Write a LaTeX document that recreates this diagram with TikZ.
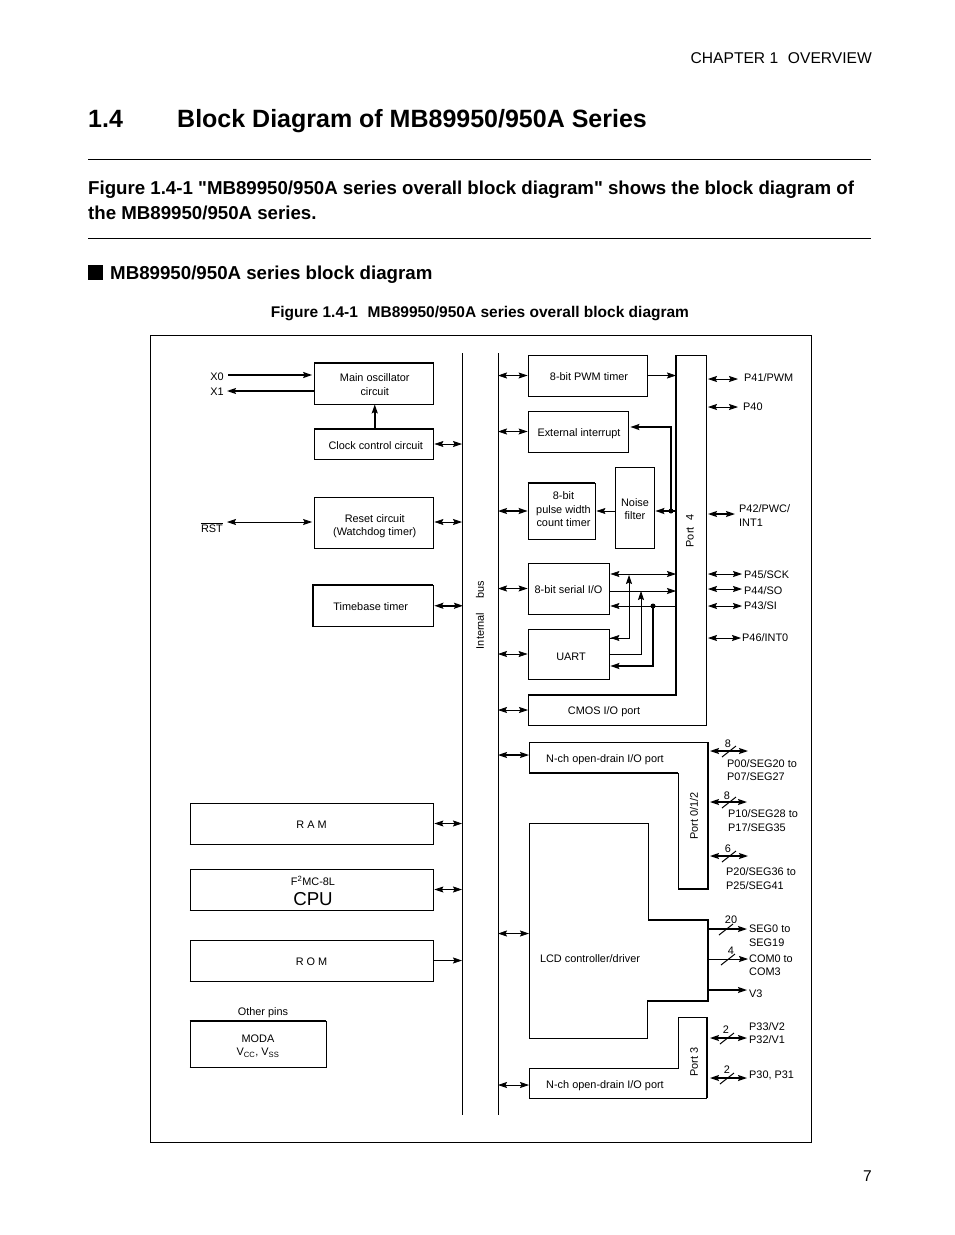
\documentclass[tikz,border=0pt]{standalone}
\usepackage{fontspec}
\setmainfont{Liberation Sans}[Ligatures=TeXOff]
\usetikzlibrary{arrows.meta,calc}
\newcommand{\dtxt}{\fontsize{10.9}{13.5}\selectfont}
\newcommand{\sh}[1]{\hspace*{#1pt}}
\tikzset{
  thinln/.style={line width=0.75pt},
  heavyln/.style={line width=1.7pt},
  block/.style={draw,thinln,inner sep=0pt,align=center,font=\dtxt,text depth=0pt},
  lab/.style={inner sep=0pt,align=left,font=\dtxt,text depth=0pt,yshift=-1pt},
  rot/.style={inner sep=0pt,font=\dtxt,rotate=90},
  pagetxt/.style={inner sep=0pt,anchor=base west},
  conn/.style={thinln,>={Stealth[length=9pt,width=6pt,inset=1.5pt]}},
  hconn/.style={line width=1.5pt,>={Stealth[length=9pt,width=6pt,inset=1.5pt]}},
  dotnode/.style={circle,fill,inner sep=0pt,minimum size=5pt},
}
% \blk[opts]{name}{x1}{y1}{x2}{y2}{text}
\newcommand{\blk}[7][]{\node[block,#1,minimum width=#5pt-#3pt,minimum height=#6pt-#4pt] (#2) at ({(#3+#5)/2},{(#4+#6)/2}) {\rule{0pt}{10pt}#7};}
\newcommand{\pin}[4]{\coordinate (#1a) at (#2,#3); \coordinate (#1b) at (#4,#3);}
\newcommand{\wslash}[1]{\draw[line width=1pt] ($(#1)+(-7,5.5)$) -- ($(#1)+(7,-5.5)$);}
\begin{document}
\begin{tikzpicture}[x=1pt,y=-1pt]
\useasboundingbox (0,0) rectangle (954,1235);
% page text
\node[inner sep=0pt,anchor=base east,font=\fontsize{15.6}{20}\selectfont] (chap) at (872,63) {CHAPTER 1\hspace{0.35em} OVERVIEW};
\node[pagetxt,font=\bfseries\fontsize{25}{30}\selectfont] (secno) at (88,127) {1.4};
\node[pagetxt,font=\bfseries\fontsize{25}{30}\selectfont] (sectitle) at (177,127) {Block Diagram of MB89950/950A Series};
\coordinate (r1a) at (88,159); \coordinate (r1b) at (871,159);
\coordinate (r2a) at (88,238); \coordinate (r2b) at (871,238);
\draw[line width=0.7pt] (r1a) -- (r1b);
\draw[line width=0.7pt] (r2a) -- (r2b);
\node[pagetxt,font=\bfseries\fontsize{18.67}{24}\selectfont] (p1) at (88,194) {Figure 1.4-1 "MB89950/950A series overall block diagram" shows the block diagram of};
\node[pagetxt,font=\bfseries\fontsize{18.67}{24}\selectfont] (p2) at (88,219) {the MB89950/950A series.};
\fill (88,265) rectangle (103,280);
\node[pagetxt,font=\bfseries\fontsize{18.7}{24}\selectfont] (subh) at (110,279.5) {MB89950/950A series block diagram};
\node[inner sep=0pt,anchor=base,font=\bfseries\fontsize{15.5}{20}\selectfont] (cap) at (480,317) {Figure 1.4-1\hspace{0.35em} MB89950/950A series overall block diagram};
\node[inner sep=0pt,anchor=base east,font=\fontsize{15.6}{20}\selectfont] (pageno) at (872,1181) {7};
% frame
\draw[line width=0.8pt] (150.5,335) rectangle (811,1142);
% buses
\coordinate (busL) at (462,353); \coordinate (busLb) at (462,1115);
\coordinate (busR) at (498,353); \coordinate (busRb) at (498,1115);
\draw[line width=0.9pt] (busL) -- (busLb);
\draw[line width=0.9pt] (busR) -- (busRb);
\node[rot] (ibus) at (480,615) {Internal\hspace{1.3em}bus};
% left blocks
\blk{osc}{314.5}{363}{433}{404}{\sh{2}Main oscillator\\\sh{2}circuit}
\blk{clk}{314.5}{429}{433}{459}{\sh{4}Clock control circuit}
\blk{rstc}{314.5}{497.5}{433}{548}{\rule{0pt}{12pt}\sh{2}Reset circuit\\\sh{2}(Watchdog timer)}
\blk{tb}{313.5}{585.5}{433}{626}{Timebase timer\hspace{5pt}}
\blk{ram}{190}{803}{433}{844}{R A M}
\blk{cpu}{190}{869}{433}{910}{}
\node[lab] (cpua) at (313,880) {F\textsuperscript{2}MC-8L};
\node[inner sep=0pt,font=\fontsize{18.7}{20}\selectfont] (cpub) at (313,899) {CPU};
\blk{rom}{190}{940}{433}{981}{R O M}
\blk{moda}{190}{1021}{326}{1067}{MODA\\V\textsubscript{CC}, V\textsubscript{SS}}
\node[lab] (opins) at (263,1011) {Other pins};
% heavier edges of the left blocks
\draw[line width=1.3pt] (osc.north west) -- (osc.north east) -- (osc.south east) -- (osc.south west);
\draw[line width=1.3pt] (clk.north west) -- (clk.north east) -- (clk.south east);
\draw[line width=1.3pt] (tb.north east) -- (tb.north west) -- (tb.south west) -- (tb.south east) -- (tb.north east);
\draw[line width=1.2pt] (ram.south west) -- (ram.south east);
\draw[line width=1.5pt] (cpu.south west) -- (cpu.south east);
\draw[line width=1.5pt] (rom.south west) -- (rom.south east);
\draw[line width=1.5pt] (moda.north west) -- (moda.north east);
\draw[line width=1.5pt] (moda.south west) -- (moda.south east);
% left labels and connectors
\node[lab] (x0) at (217,376) {X0};
\node[lab] (x1) at (217,391) {X1};
\node[lab] (rstl) at (212,527.5) {RST};
\draw[line width=0.7pt] ($(rstl.north west)+(0,-1.5)$) -- ($(rstl.north east)+(0,-1.5)$);
\coordinate (x0e) at (228,375); \coordinate (x1e) at (227,391); \coordinate (rste) at (227,522);
\draw[hconn,->] (x0e) -- ($(x0e -| osc.west)+(-2,0)$);
\draw[hconn,<-] (x1e) -- (x1e -| osc.west);
\draw[conn,<->] (rste) -- ($(rste -| rstc.west)+(-2,0)$);
\draw[hconn,->] ($(clk.north)+(1,0)$) -- ($(osc.south)+(1,0)$);
\draw[conn,<->] ($(clk.east)+(1,0)$) -- (clk.east -| busL);
\draw[conn,<->] ($(rstc.east |- rste)+(1,0)$) -- (rste -| busL);
\draw[hconn,<->] ($(tb.east)+(1,0)$) -- ($(tb.east -| busL)+(1,0)$);
\draw[conn,<->] ($(ram.east)+(1,0)$) -- (ram.east -| busL);
\draw[conn,<->] ($(cpu.east)+(1,0)$) -- (cpu.east -| busL);
\draw[conn,->] (rom.east) -- (rom.east -| busL);
% right column blocks
\blk{pwm}{528}{355}{647}{396}{\sh{3}8-bit PWM timer}
\blk{ext}{528}{411}{628}{452}{\sh{2}External interrupt}
\blk[text depth=6pt]{pulse}{528}{483}{595}{539}{\sh{4}8-bit\\\sh{4}pulse width\\\sh{4}count timer}
\blk{noise}{615}{467}{654}{548.5}{\sh{1}Noise\\\sh{1}filter}
\blk{serial}{528}{563}{609}{614}{8-bit serial I/O}
\blk{uart}{528}{629}{609}{679}{\rule{0pt}{12pt}\sh{5}UART}
\draw[line width=1.3pt] (pwm.north east) -- (pwm.south east) -- (pwm.south west);
\draw[line width=1.4pt] (ext.south west) -- (ext.south east);
\draw[line width=1.4pt] (pulse.north west) -- (pulse.north east);
\draw[line width=1.4pt] (serial.south west) -- (serial.south east);
% Port 4 / CMOS L-shape
\coordinate (p4w) at (676,355); \coordinate (p4e) at (706,355);
\draw[thinln] (p4w) -- (p4e) -- (706,725) -- (528,725) -- (528,695);
\draw[line width=1.1pt] (p4w) -- (676,695);
\draw[heavyln] (676.5,695) -- (528,695);
\node[rot] (port4) at (690,531) {Port\hspace{0.6em}4};
\node[lab] (cmos) at (604,710) {CMOS I/O port};
% Port 0/1/2 L-shape
\coordinate (p0w) at (678,773); \coordinate (p0e) at (708,742);
\draw[thinln] (529,773) -- (529,742) -- (p0e);
\draw[line width=1.3pt] (p0e) -- (708,889) -- (678,889);
\draw[thinln] (678,889) -- (p0w);
\draw[line width=1.3pt] (p0w) -- (529,773);
\node[rot] (port012) at (694,816) {Port 0/1/2};
\node[lab] (nch1) at (605,758) {N-ch open-drain I/O port};
% LCD
\coordinate (lcdw) at (529,933); \coordinate (lcde) at (708,960);
\draw[thinln] (648,920) -- (648,823) -- (529,823) -- (529,1038) -- (647,1038) -- (647,1001);
\draw[line width=1.4pt] (648,920) -- (708,920) -- (708,1001) -- (647,1001);
\node[lab] (lcd) at (590,958) {LCD controller/driver};
% Port 3 L-shape
\coordinate (p3e) at (707,1017);
\draw[thinln] (p3e) -- (678,1017) -- (678,1068) -- (529,1068) -- (529,1098) -- (707,1098);
\draw[line width=1.1pt] (p3e) -- (707,1098);
\node[rot] (port3) at (694,1062) {Port 3};
\node[lab] (nch2) at (605,1084) {N-ch open-drain I/O port};
% bus connectors, right side
\draw[conn,<->] (busR |- pwm.west) -- (pwm.west);
\draw[conn,<->] (busR |- ext.west) -- (ext.west);
\draw[hconn,<->] (busR |- pulse.west) -- (pulse.west);
\draw[conn,<->] (busR |- serial.west) -- (serial.west);
\draw[conn,<->] (busR |- uart.west) -- (uart.west);
\coordinate (cmosw) at (528,710); \coordinate (n1w) at (529,755);
\coordinate (lcdbw) at (529,933.5); \coordinate (n2w) at (529,1085);
\draw[conn,<->] (busR |- cmosw) -- (cmosw);
\draw[line width=1.1pt,>={Stealth[length=9pt,width=6pt,inset=1.5pt]},<->] (busR |- n1w) -- (n1w);
\draw[conn,<->] (busR |- lcdbw) -- (lcdbw);
\draw[conn,<->] (busR |- n2w) -- (n2w);
% internal connectors
\draw[conn,->] (pwm.east) -- (pwm.east -| p4w);
\coordinate (nj) at (671,511);
\node[dotnode] (njd) at (nj) {};
\draw[hconn,->] (p4w |- nj) -- ($(nj -| noise.east)+(1,0)$);
\draw[hconn,->] (njd.center) -- (671,427) -- ($(ext.east |- 0,427)+(2,0)$);
\draw[conn,->] (noise.west |- nj) -- ($(pulse.east |- nj)+(1,0)$);
\coordinate (sa) at (629,574); \coordinate (sb) at (641,591); \coordinate (sc) at (653,606);
\draw[conn,<->] ($(serial.east |- sa)+(1,0)$) -- (sa -| p4w);
\draw[conn,->] (serial.east |- sb) -- (sb -| p4w);
\draw[conn,->] (sc -| p4w) -- ($(serial.east |- sc)+(1,0)$);
\draw[conn,->] ($(uart.east |- 0,638)+(1,0)$) -- (629,638) -- ($(sa)+(0,1)$);
\draw[conn,->] (629,638) -- ($(uart.east |- 0,638)+(1,0)$);
\draw[conn,->] (uart.east |- 0,654) -- (641,654) -- (sb);
\node[dotnode] (scd) at (sc) {};
\draw[hconn,->] (scd.center) -- (653,666) -- ($(uart.east |- 0,666)+(1,0)$);
% pins of port 4
\pin{p41}{708}{379}{738} \draw[conn,<->] (p41a) -- (p41b);
\pin{p40}{708}{407}{738} \draw[conn,<->] (p40a) -- (p40b);
\pin{p42}{708}{514}{735} \draw[hconn,<->] (p42a) -- (p42b);
\pin{p45}{708}{574}{742} \draw[conn,<->] (p45a) -- (p45b);
\pin{p44}{708}{589}{742} \draw[conn,<->] (p44a) -- (p44b);
\pin{p43}{708}{606}{742} \draw[conn,<->] (p43a) -- (p43b);
\pin{p46}{708}{638}{741} \draw[conn,<->] (p46a) -- (p46b);
\node[lab,anchor=west] (l41) at (744,377) {P41/PWM};
\node[lab,anchor=west] (l40) at (743,406) {P40};
\node[lab,anchor=west] (l42) at (739,514.5) {P42/PWC/\\INT1};
\node[lab,anchor=west] (l45) at (744,574) {P45/SCK};
\node[lab,anchor=west] (l44) at (744,590) {P44/SO};
\node[lab,anchor=west] (l43) at (744,605) {P43/SI};
\node[lab,anchor=west] (l46) at (742,637) {P46/INT0};
% pins of port 0/1/2
\pin{p0}{710}{751}{748} \draw[hconn,<->] (p0a) -- (p0b);
\pin{p1}{710}{802}{747} \draw[hconn,<->] (p1a) -- (p1b);
\pin{p2}{710}{856}{748} \draw[hconn,<->] (p2a) -- (p2b);
\coordinate (s0) at (729,751.5); \coordinate (s1) at (729,802.5); \coordinate (s2) at (729,856.5);
\wslash{s0} \wslash{s1} \wslash{s2}
\node[lab] (n8a) at (728,743) {8};
\node[lab] (n8b) at (727,795) {8};
\node[lab] (n6) at (728,848) {6};
\node[lab,anchor=west] (l00) at (727,769) {P00/SEG20 to\\P07/SEG27};
\node[lab,anchor=west] (l10) at (728,819.5) {P10/SEG28 to\\P17/SEG35};
\node[lab,anchor=west] (l20) at (726,877.5) {P20/SEG36 to\\P25/SEG41};
% LCD outputs
\pin{seg}{708}{929}{747} \draw[hconn,->] (sega) -- (segb);
\pin{com}{708}{959}{748} \draw[conn,->] (coma) -- (comb);
\pin{v3}{708}{990}{747} \draw[hconn,->] (v3a) -- (v3b);
\coordinate (s3) at (726,929.5); \coordinate (s4) at (728,959.5);
\wslash{s3} \wslash{s4}
\node[lab] (n20) at (731,919) {20};
\node[lab] (n4) at (731,950) {4};
\node[lab,anchor=west] (lseg) at (749,934.5) {SEG0 to\\SEG19};
\node[lab,anchor=west] (lcom) at (749,964) {COM0 to\\COM3};
\node[lab,anchor=west] (lv3) at (749,993) {V3};
% pins of port 3
\pin{p33}{710}{1038}{747} \draw[hconn,<->] (p33a) -- (p33b);
\pin{p30}{710}{1078}{747} \draw[hconn,<->] (p30a) -- (p30b);
\coordinate (s5) at (727,1038.5); \coordinate (s6) at (727,1078.5);
\wslash{s5} \wslash{s6}
\node[lab] (n2a) at (726,1029) {2};
\node[lab] (n2b) at (727,1069) {2};
\node[lab,anchor=west] (l33) at (749,1032) {P33/V2\\P32/V1};
\node[lab,anchor=west] (l30) at (749,1074) {P30, P31};
\end{tikzpicture}
\end{document}
